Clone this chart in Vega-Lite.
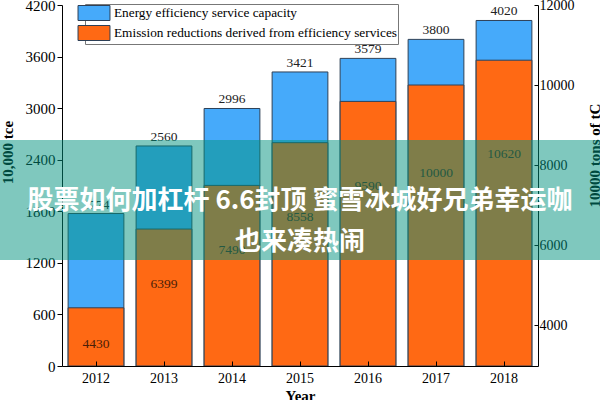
{
  "$schema": "https://vega.github.io/schema/vega-lite/v6.json",
  "width": 476,
  "height": 361,
  "autosize": {"type": "none"},
  "padding": {"left": 62, "top": 5, "right": 62, "bottom": 34},
  "config": {
    "view": {"stroke": null},
    "font": "Liberation Serif",
    "axis": {
      "domainColor": "#000",
      "tickColor": "#000",
      "labelColor": "#000",
      "titleColor": "#000",
      "grid": false,
      "labelFont": "Liberation Serif",
      "titleFont": "Liberation Serif"
    }
  },
  "data": {
    "values": [
      {"year": "2012", "capacity": 1774, "reduction": 4430},
      {"year": "2013", "capacity": 2560, "reduction": 6399},
      {"year": "2014", "capacity": 2996, "reduction": 7490},
      {"year": "2015", "capacity": 3421, "reduction": 8558},
      {"year": "2016", "capacity": 3579, "reduction": 9590},
      {"year": "2017", "capacity": 3800, "reduction": 10000},
      {"year": "2018", "capacity": 4020, "reduction": 10620}
    ]
  },
  "layer": [
    {
      "layer": [
        {
          "layer": [
            {
              "mark": {"type": "bar", "stroke": "#2e4057", "strokeWidth": 1},
              "encoding": {
                "x": {
                  "field": "year", "type": "nominal",
                  "scale": {"paddingInner": 0.18, "paddingOuter": 0.09},
                  "axis": {
                    "title": "Year", "labelAngle": 0, "tickSize": -5,
                    "labelFontSize": 14, "titleFontSize": 15, "titleFontWeight": "bold",
                    "zindex": 1, "labelPadding": 10, "titleY": 34, "titleBaseline": "alphabetic"
                  }
                },
                "y": {
                  "field": "capacity", "type": "quantitative",
                  "scale": {"domain": [0, 4200], "nice": false},
                  "axis": {
                    "orient": "left", "values": [0, 600, 1200, 1800, 2400, 3000, 3600, 4200],
                    "format": "d", "tickSize": 5, "labelFontSize": 15, "labelPadding": 2,
                    "title": "10,000 tce", "titleFontSize": 15, "titleFontWeight": "bold",
                    "titleX": -50, "titleY": 147, "titleAngle": -90,
                    "titleBaseline": "alphabetic", "titleAlign": "center"
                  }
                },
                "color": {
                  "datum": "Energy efficiency service capacity", "type": "nominal",
                  "scale": {
                    "domain": ["Energy efficiency service capacity", "Emission reductions derived from efficiency services"],
                    "range": ["#46AAFA", "#FF6914"]
                  },
                  "legend": {
                    "orient": "none", "legendX": 23, "legendY": -1, "title": null,
                    "symbolType": "M-2.13,-1H2.13V1H-2.13Z", "symbolSize": 225,
                    "symbolStrokeColor": "#333", "symbolStrokeWidth": 1, "symbolOpacity": 1,
                    "labelFont": "Liberation Serif", "labelFontSize": 13.3, "labelColor": "#000",
                    "labelLimit": 0,
                    "padding": 1, "strokeColor": "#777", "fillColor": "#fff",
                    "rowPadding": 0, "labelOffset": 12
                  }
                }
              }
            },
            {
              "mark": {"type": "text", "baseline": "bottom", "dy": -2, "fontSize": 13.5, "color": "#222"},
              "encoding": {
                "x": {"field": "year", "type": "nominal"},
                "y": {"field": "capacity", "type": "quantitative"},
                "text": {"field": "capacity", "type": "nominal"}
              }
            }
          ]
        },
        {
          "mark": {"type": "bar", "stroke": "#2e4057", "strokeWidth": 1},
          "encoding": {
            "x": {"field": "year", "type": "nominal"},
            "y": {
              "field": "reduction", "type": "quantitative",
              "scale": {"domain": [2975, 12000], "nice": false, "zero": false},
              "axis": {
                "orient": "right", "values": [4000, 6000, 8000, 10000, 12000],
                "format": "d", "tickSize": -4, "labelFontSize": 14, "labelPadding": 5,
                "title": "10000 tons of tC", "titleFontSize": 15, "titleFontWeight": "bold",
                "titleX": 61, "titleY": 150, "titleAngle": -90,
                "titleBaseline": "alphabetic", "titleAlign": "center"
              }
            },
            "y2": {"datum": 2975},
            "color": {"datum": "Emission reductions derived from efficiency services", "type": "nominal"}
          }
        },
        {
          "mark": {"type": "text", "baseline": "middle", "fontSize": 13.5, "color": "#4a2008"},
          "encoding": {
            "x": {"field": "year", "type": "nominal"},
            "y": {
              "field": "reduction", "type": "quantitative",
              "scale": {"domain": [3730, 15450], "nice": false, "zero": false},
              "axis": null
            },
            "text": {"field": "reduction", "type": "nominal"}
          }
        }
      ],
      "resolve": {"scale": {"y": "independent"}}
    },
    {
      "data": {"values": [{}]},
      "layer": [
        {
          "mark": {"type": "rect", "color": "#00917D", "opacity": 0.5},
          "encoding": {
            "x": {"datum": -0.1303, "type": "quantitative", "scale": {"domain": [0, 1], "nice": false, "zero": false}, "axis": null},
            "x2": {"datum": 1.1303},
            "y": {"datum": 0.2936, "type": "quantitative", "scale": {"domain": [0, 1], "nice": false, "zero": false}, "axis": null},
            "y2": {"datum": 0.626}
          }
        },
        {
          "mark": {
            "type": "text", "color": "#ffffff", "font": "Noto Sans CJK SC", "fontWeight": "bold",
            "fontSize": 26, "lineHeight": 41, "baseline": "middle", "align": "center"
          },
          "encoding": {
            "x": {"datum": 0.5, "type": "quantitative"},
            "y": {"datum": 0.4557, "type": "quantitative"},
            "text": {"value": ["股票如何加杠杆 6.6封顶 蜜雪冰城好兄弟幸运咖", "也来凑热闹"]}
          }
        }
      ]
    }
  ],
  "resolve": {"scale": {"x": "independent", "y": "independent"}}
}
